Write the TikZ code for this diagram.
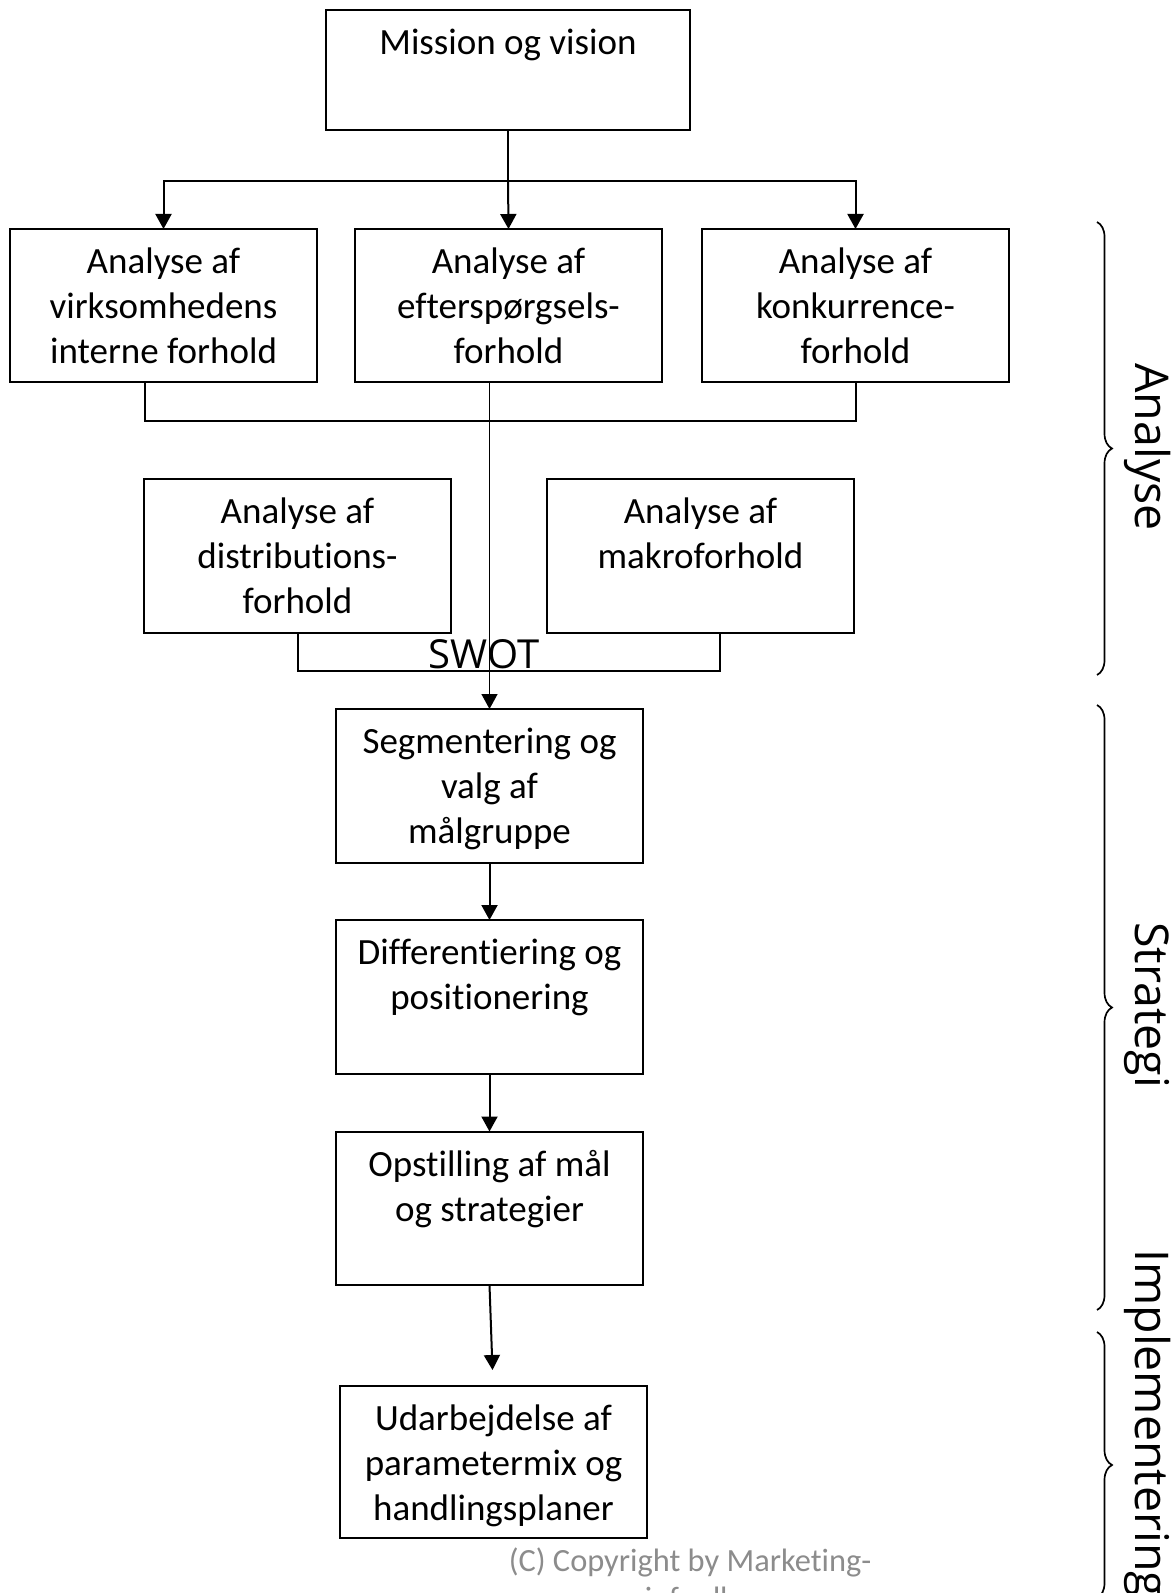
\documentclass[tikz,border=0pt]{standalone}
\usepackage{fontspec}
\setmainfont{Carlito}[Ligatures=NoCommon]
\newfontfamily\sidefont{Open Sans}
\usetikzlibrary{arrows.meta,decorations.pathreplacing}

\begin{document}
\begin{tikzpicture}[x=0.5pt,y=-0.5pt,
  box/.style={draw, line width=1pt, anchor=north west, inner sep=0pt, outer sep=0pt,
    minimum width=153.5pt, minimum height=76.75pt},
  txt/.style={anchor=north, align=center, inner sep=0pt,
    font=\fontsize{18.5pt}{22.35pt}\selectfont},
  line/.style={line width=1pt},
  arrow/.style={line width=1pt, -{Triangle[length=7.5pt,width=8pt]}},
  bracebar/.style={line width=0.85pt, decorate,
    decoration={brace, amplitude=7.5pt}},
  sidelabel/.style={rotate=-90, anchor=base west, inner sep=0pt,
    font=\sidefont\fontsize{23.25pt}{28pt}\selectfont}]

\path[use as bounding box] (0,0) rectangle (1175,1593);
\clip (0,0) rectangle (1175,1593);

% top box
\node[box, minimum width=182pt, minimum height=60pt] (mission) at (326,10) {};
\node[txt] (missiont) at ([yshift=-6.6pt]mission.north) {\strut Mission og vision};

% first row of analyses
\node[box] (intern) at (10,229) {};
\node[txt] (internt) at ([yshift=-6.6pt]intern.north) {\strut Analyse af\\virksomhedens\\interne forhold};
\node[box] (efter) at (355,229) {};
\node[txt] (eftert) at ([yshift=-6.6pt]efter.north) {\strut Analyse af\\efterspørgsels-\\forhold};
\node[box] (konk) at (702,229) {};
\node[txt] (konkt) at ([yshift=-6.6pt]konk.north) {\strut Analyse af\\konkurrence-\\forhold};

% second row of analyses
\node[box] (distr) at (144,479) {};
\node[txt] (distrt) at ([yshift=-6.6pt]distr.north) {\strut Analyse af\\distributions-\\forhold};
\node[box] (makro) at (547,479) {};
\node[txt] (makrot) at ([yshift=-6.6pt]makro.north) {\strut Analyse af\\makroforhold};

% strategy chain
\node[box] (seg) at (336,709) {};
\node[txt] (segt) at ([yshift=-6.6pt]seg.north) {\strut Segmentering og\\valg af\\målgruppe};
\node[box] (diff) at (336,920) {};
\node[txt] (difft) at ([yshift=-6.6pt]diff.north) {\strut Differentiering og\\positionering};
\node[box, minimum height=76.75pt] (opst) at (336,1131.5) {};
\node[txt] (opstt) at ([yshift=-6.6pt]opst.north) {\strut Opstilling af mål\\og strategier};
\node[box, minimum height=76pt] (udarb) at (340,1386) {};
\node[txt] (udarbt) at ([yshift=-6.6pt]udarb.north) {\strut Udarbejdelse af\\parametermix og\\handlingsplaner};

% distribution from the mission box
\coordinate (split) at (508,181);
\draw[line] (mission.south) -- (split);
\draw[arrow] (split) -| (intern.north);
\draw[arrow] (split) -| (konk.north);
\draw[arrow] (split) -- (efter.north);

% collecting brackets
\coordinate (c1l) at (145,421);
\coordinate (c1r) at (856,421);
\draw[line] (c1l |- intern.south) -- (c1l) -- (c1r) -- (c1r |- konk.south);
\coordinate (c2l) at (298,671);
\coordinate (c2r) at (720,671);
\draw[line] (c2l |- distr.south) -- (c2l) -- (c2r) -- (c2r |- makro.south);

\node[anchor=base, inner sep=0pt, font=\sidefont\fontsize{20pt}{24pt}\selectfont]
  (swot) at (484,668) {SWOT};

% main flow
\draw[arrow, line width=0.75pt] (seg.north |- efter.south) -- (seg.north);
\draw[arrow] (seg.south) -- (diff.north);
\draw[arrow] (diff.south) -- (opst.north);
\coordinate (impltip) at (492.5,1370);
\draw[arrow] (opst.south) -- (impltip);

% phase braces
\draw[bracebar] (1097,222) -- (1097,675);
\draw[bracebar] (1097,705) -- (1097,1310);
\draw[bracebar] (1097,1332) -- (1097,1598);
\node[sidelabel] (phase1) at (1135,363) {Analyse};
\node[sidelabel] (phase2) at (1135,922) {Strategi};
\node[sidelabel] (phase3) at (1135,1249) {Implementering};

% copyright note
\node[anchor=north, align=center, inner sep=0pt, text={rgb,255:red,140;green,140;blue,140},
  font=\fontsize{16.2pt}{19pt}\selectfont] (copy) at (690,1544.4)
  {\strut(C) Copyright by Marketing-\\info.dk};
\end{tikzpicture}
\end{document}
